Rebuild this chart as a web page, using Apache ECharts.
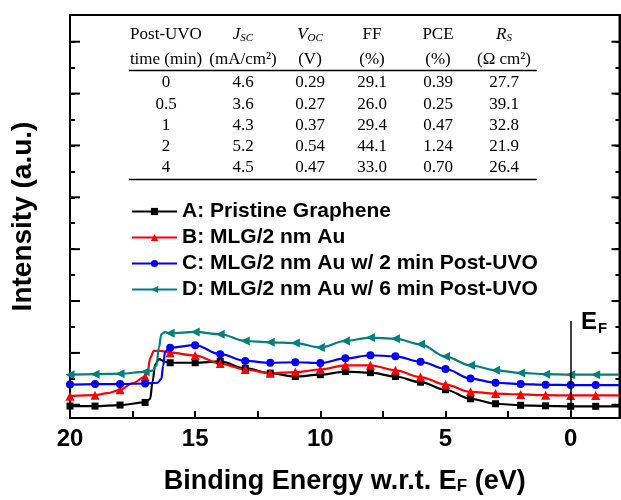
<!DOCTYPE html>
<html>
<head>
<meta charset="utf-8">
<script src="https://cdn.jsdelivr.net/npm/echarts@6/dist/echarts.min.js"></script>
<style>
  html, body { margin: 0; padding: 0; background: #fff; overflow: hidden; }
  #main { width: 621px; height: 500px; }
</style>
</head>
<body>
<div id="main"></div>
<script>
// spectra: binding energy (eV) and intensity (a.u., 10 per minor tick)
var xA = [20, 19, 18, 17, 16.8, 16.7, 16.6, 16.45, 16.2, 16, 15, 14, 13, 12, 11, 10, 9, 8, 7, 6, 5, 4, 3, 2, 1, 0, -1, -1.95];
var yA = [-0.5, -0.5, -0.1, 0.9, 2.2, 9, 15.5, 17.6, 16.6, 16.2, 16.2, 16.7, 14, 12.2, 10.9, 11.6, 12.8, 12.4, 10.9, 8.7, 5.8, 2.3, 0.4, -0.2, -0.4, -0.6, -0.6, -0.6];

var xB = [20, 19, 18.5, 18, 17.5, 17, 16.9, 16.8, 16.65, 16.4, 16, 15, 14, 13, 12, 11, 10, 9, 8, 7, 6, 5, 4, 3, 2, 1, 0, -1, -1.95];
var yB = [3.3, 3.7, 4.5, 5.8, 8.3, 10.8, 12.6, 18, 20.8, 20.8, 20.1, 19, 15.9, 13.6, 12.2, 12.6, 13.6, 15.2, 15.2, 13.3, 10.7, 7.8, 5, 4.3, 4.0, 3.7, 3.6, 3.6, 3.6];

var xC = [20, 19, 18, 17, 16.5, 16.35, 16.28, 16.2, 16, 15, 14, 13, 12, 11, 10, 9, 8, 7, 6, 5, 4, 3, 2, 1, 0, -1, -1.95];
var yC = [7.8, 8, 8, 8.2, 8.5, 10, 15, 20.5, 22, 23, 19.5, 16.9, 16.2, 16.4, 16.1, 17.9, 19.1, 18.7, 16.6, 13.8, 10.1, 8.5, 8, 7.7, 7.6, 7.6, 7.6];

var xD = [20, 19, 18, 17, 16.7, 16.55, 16.45, 16.35, 16.2, 16, 15, 14, 13, 12, 11, 10, 9, 8, 7, 6, 5, 4, 3, 2, 1, 0, -1, -1.95];
var yD = [11.6, 11.8, 12, 12.7, 13.2, 15, 22, 27.3, 28, 27.6, 28.1, 27.2, 24.6, 24.1, 23.8, 22.1, 24.6, 25.9, 25.5, 23.3, 18.6, 15.2, 13.3, 12.3, 11.8, 11.6, 11.6, 11.6];

var seriesNames = ['A: Pristine Graphene', 'B: MLG/2 nm Au', 'C: MLG/2 nm Au w/ 2 min Post-UVO', 'D: MLG/2 nm Au w/ 6 min Post-UVO'];

var xTickLabels = [0, 5, 10, 15, 20];
var xTicks = [0, 2.5, 5, 7.5, 10, 12.5, 15, 17.5, 20];
var yTicks = [0, 10, 20, 30, 40, 50, 60, 70, 80, 90, 100, 110, 120, 130, 140];
var yMajor = [0, 20, 40, 60, 80, 100, 120, 140];

// inset table
var head1 = ['Post-UVO', '{i|J}{s|SC}', '{i|V}{s|OC}', 'FF', 'PCE', '{i|R}{s|S}'];
var head2 = ['time (min)', '(mA/cm²)', '(V)', '(%)', '(%)', '(Ω cm²)'];
var uvoTime = ['0', '0.5', '1', '2', '4'];
var jsc = ['4.6', '3.6', '4.3', '5.2', '4.5'];
var voc = ['0.29', '0.27', '0.37', '0.54', '0.47'];
var ff = ['29.1', '26.0', '29.4', '44.1', '33.0'];
var pce = ['0.39', '0.25', '0.47', '1.24', '0.70'];
var rs = ['27.7', '39.1', '32.8', '21.9', '26.4'];

function pairs(xs, ys) {
  return xs.map(function (x, i) { return [x, ys[i]]; });
}

var colX = [166, 243, 310, 372, 438, 504];
var rowY = [83, 105, 126, 147, 168];
var serif = 'Liberation Serif, Times New Roman, serif';
var tableRich = {
  i: { fontFamily: serif, fontSize: 17, fontStyle: 'italic', fill: '#000' },
  s: { fontFamily: serif, fontSize: 11, fontStyle: 'italic', fill: '#000', padding: [7, 0, 0, 0] }
};

function cell(x, y, txt) {
  return {
    type: 'text', silent: true,
    style: {
      text: txt, x: x, y: y, fill: '#000',
      fontFamily: serif, fontSize: 17,
      textAlign: 'center', align: 'center',
      textVerticalAlign: 'middle', verticalAlign: 'middle',
      rich: tableRich
    }
  };
}

var graphics = [];
head1.forEach(function (t, i) { graphics.push(cell(colX[i], 35, t)); });
head2.forEach(function (t, i) { graphics.push(cell(colX[i], 60, t)); });
[uvoTime, jsc, voc, ff, pce, rs].forEach(function (col, i) {
  col.forEach(function (t, j) { graphics.push(cell(colX[i], rowY[j], t)); });
});
[70.5, 179.5].forEach(function (y) {
  graphics.push({
    type: 'line', silent: true,
    shape: { x1: 129, y1: y, x2: 537, y2: y },
    style: { stroke: '#000', lineWidth: 1.5 }
  });
});
graphics.push({
  type: 'text', silent: true,
  style: {
    text: '{e|E}{f|F}', x: 581, y: 309, fill: '#000',
    rich: {
      e: { fontFamily: 'Arial, Liberation Sans', fontWeight: 'bold', fontSize: 24, fill: '#000' },
      f: { fontFamily: 'Arial, Liberation Sans', fontWeight: 'bold', fontSize: 15, fill: '#000', padding: [12, 0, 0, 1] }
    }
  }
});

var sans = 'Arial, Liberation Sans, sans-serif';
var frame = { show: true, onZero: false, lineStyle: { color: '#000', width: 2 } };
var yMin = -5.1, yMax = 150.3, xMin = -1.95, xMax = 20;

function markerSize(size) {
  return function (v) { return Number.isInteger(v[0]) ? size : 0; };
}

function curve(name, data, color, symbol, size, rotate) {
  return {
    name: name, type: 'line', data: data,
    xAxisIndex: 0, yAxisIndex: 0,
    smooth: 0.35, smoothMonotone: 'x',
    symbol: symbol, symbolRotate: rotate || 0,
    symbolSize: markerSize(size), showAllSymbol: true,
    lineStyle: { color: color, width: 2.2 },
    itemStyle: { color: color },
    z: 3
  };
}

var series = [
  curve(seriesNames[0], pairs(xA, yA), '#000000', 'rect', 7),
  curve(seriesNames[1], pairs(xB, yB), '#ff0000', 'triangle', 9),
  curve(seriesNames[2], pairs(xC, yC), '#0000ff', 'circle', 8),
  curve(seriesNames[3], pairs(xD, yD), '#008080', 'triangle', 9, 90)
];
series[0].markLine = {
  silent: true, symbol: 'none', label: { show: false },
  lineStyle: { color: '#000', width: 1.5, type: 'solid' },
  data: [[{ coord: [0, 32.3] }, { coord: [0, yMin] }]]
};

var chart = echarts.init(document.getElementById('main'));
chart.setOption({
  backgroundColor: '#fff',
  animation: false,
  grid: { left: 70, right: 1.5, top: 15, bottom: 81, show: true, borderColor: '#000', borderWidth: 2, backgroundColor: 'transparent' },
  legend: {
    data: seriesNames, orient: 'vertical', left: 126, top: 196,
    itemWidth: 45, itemHeight: 9, itemGap: 5,
    textStyle: { fontFamily: sans, fontWeight: 'bold', fontSize: 21, color: '#000' }
  },
  xAxis: [
    {
      type: 'value', inverse: true, min: xMin, max: xMax, position: 'bottom',
      axisLine: frame, splitLine: { show: false },
      axisTick: { show: true, inside: true, length: 7, customValues: xTicks, lineStyle: { color: '#000', width: 2 } },
      axisLabel: { customValues: xTickLabels, margin: 9, color: '#000', fontFamily: sans, fontWeight: 'bold', fontSize: 24 },
      name: '{a|Binding Energy w.r.t. E}{s|F}{a| (eV)}',
      nameLocation: 'middle', nameGap: 50,
      nameTextStyle: {
        rich: {
          a: { fontFamily: sans, fontWeight: 'bold', fontSize: 27, color: '#000' },
          s: { fontFamily: sans, fontWeight: 'bold', fontSize: 17, color: '#000', padding: [10, 0, 0, 0] }
        }
      }
    }
  ],
  yAxis: [
    {
      type: 'value', min: yMin, max: yMax, position: 'left',
      axisLine: frame, splitLine: { show: false }, axisLabel: { show: false },
      axisTick: { show: true, inside: true, length: 5, customValues: yTicks, lineStyle: { color: '#000', width: 2 } },
      name: 'Intensity (a.u.)', nameLocation: 'middle', nameGap: 33, nameRotate: 90,
      nameTextStyle: { fontFamily: sans, fontWeight: 'bold', fontSize: 28, color: '#000' }
    },
    {
      type: 'value', min: yMin, max: yMax, position: 'right',
      axisLine: frame, splitLine: { show: false }, axisLabel: { show: false },
      axisTick: { show: true, inside: true, length: 4, customValues: yTicks, lineStyle: { color: '#000', width: 2 } }
    }
  ],
  graphic: graphics,
  series: series
});

// longer marks for the major intensity ticks, placed through the axis scale
var edge = chart.convertToPixel({ xAxisIndex: 0 }, xMin);
var left = chart.convertToPixel({ xAxisIndex: 0 }, xMax);
var extra = [];
yMajor.forEach(function (v) {
  var py = chart.convertToPixel({ yAxisIndex: 0 }, v);
  extra.push({ type: 'line', silent: true, shape: { x1: left, y1: py, x2: left + 10, y2: py }, style: { stroke: '#000', lineWidth: 2 } });
  extra.push({ type: 'line', silent: true, shape: { x1: edge, y1: py, x2: edge - 8, y2: py }, style: { stroke: '#000', lineWidth: 2 } });
});
chart.setOption({ graphic: graphics.concat(extra) });
</script>
</body>
</html>
